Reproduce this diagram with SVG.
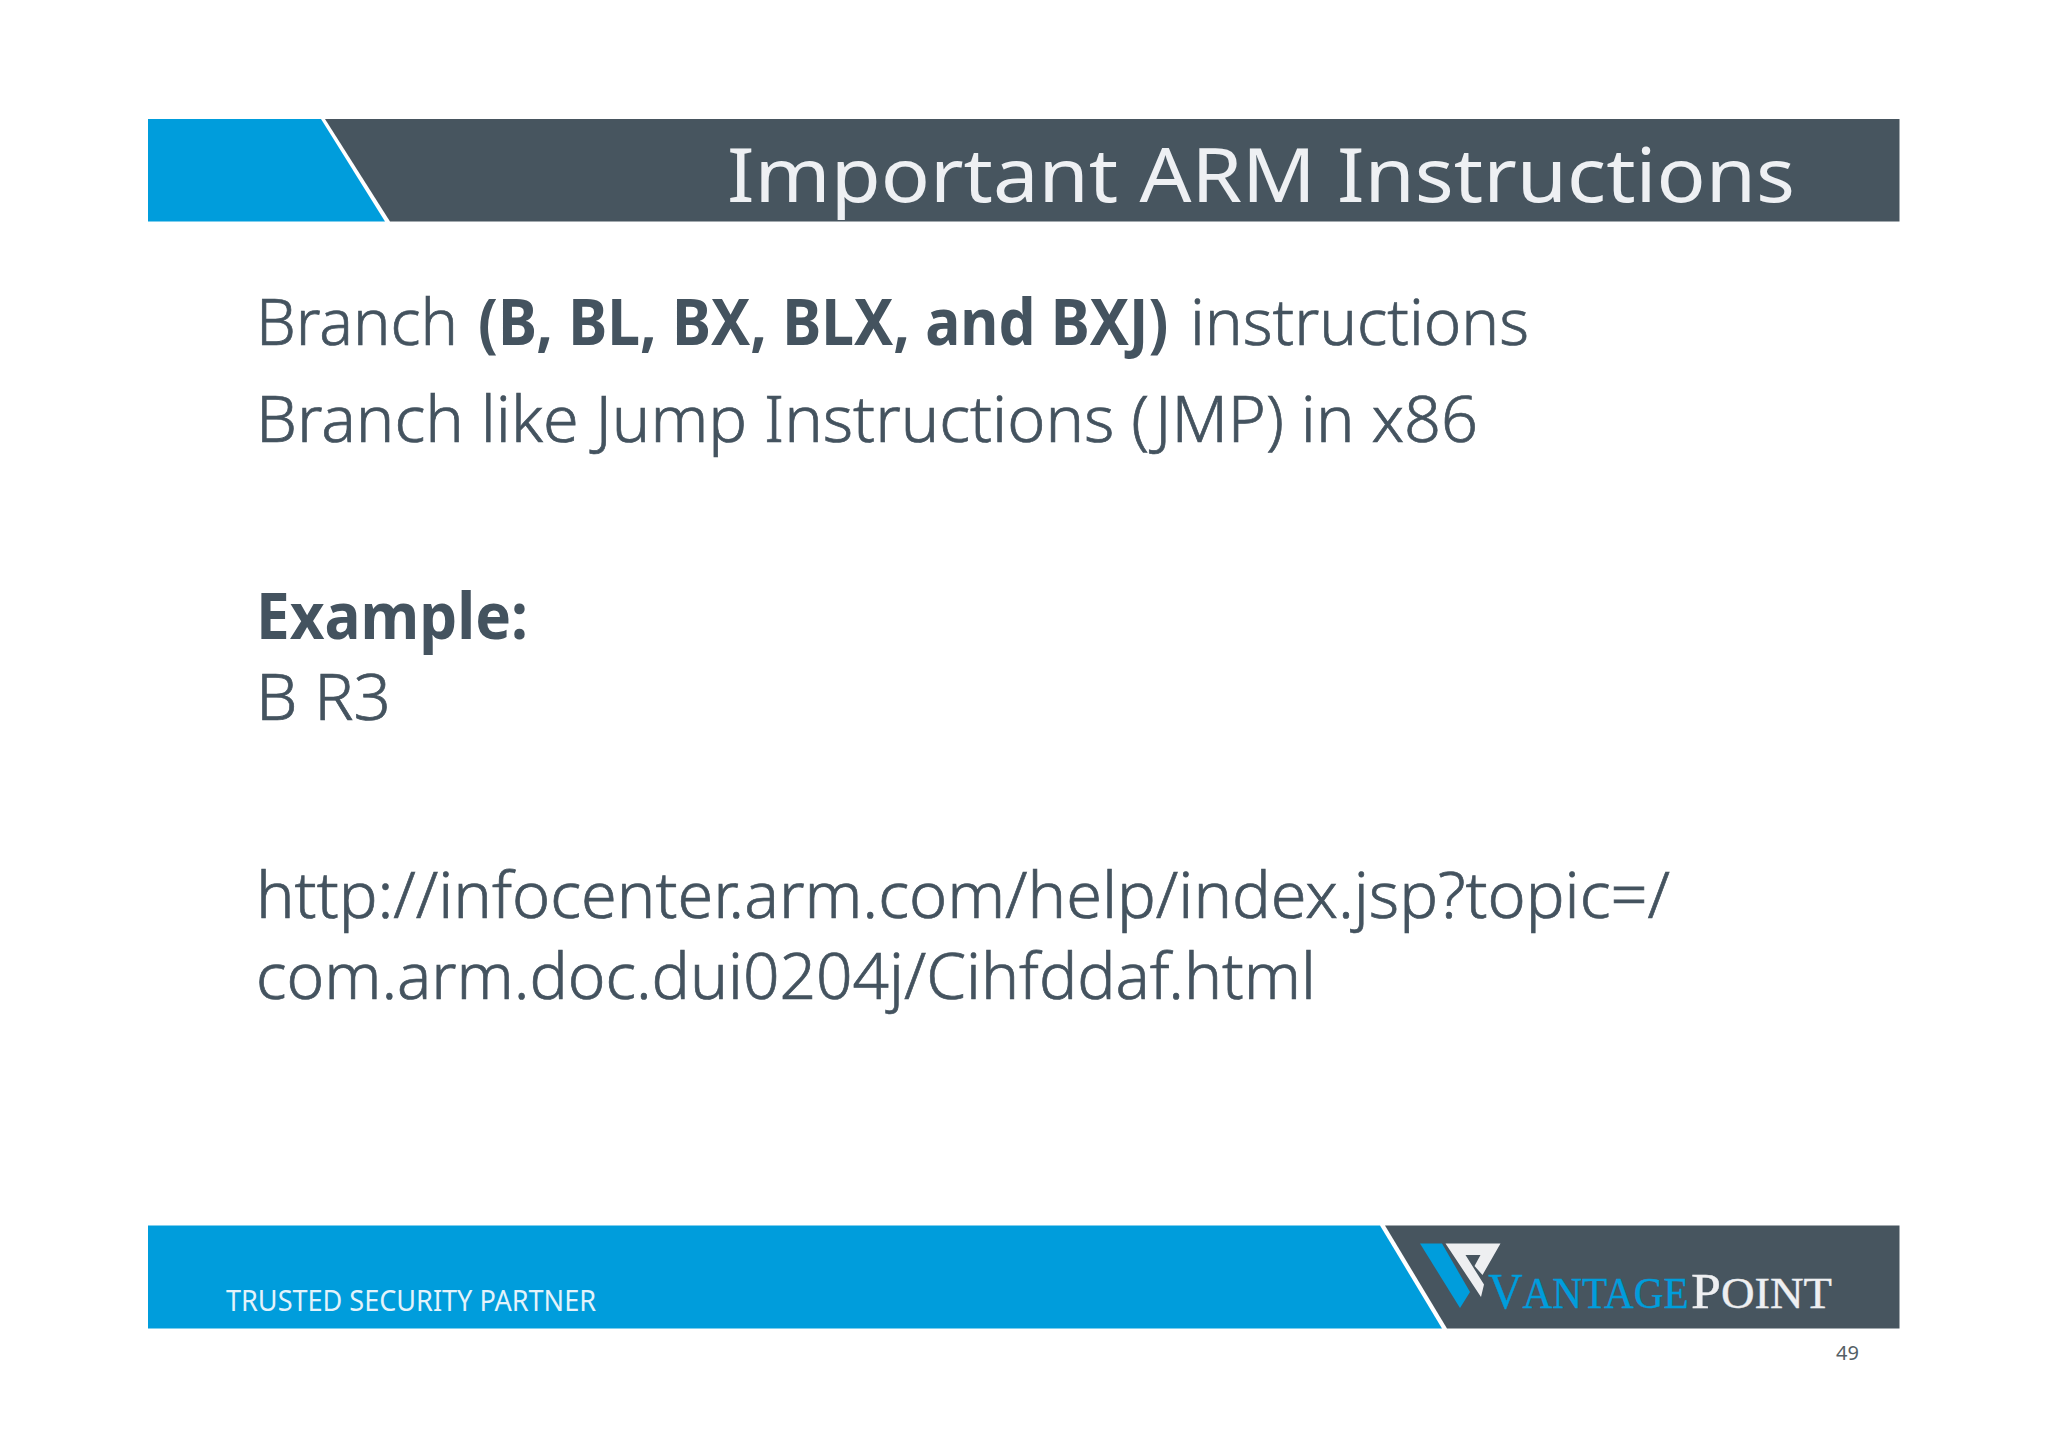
<svg xmlns="http://www.w3.org/2000/svg" width="2048" height="1447" viewBox="0 0 2048 1447">
<style>
.b{font-family:"Noto Sans","Open Sans",sans-serif;font-size:65px;fill:#44535f;stroke:#44535f;stroke-width:.7px;font-weight:300}
.s{font-weight:700;stroke:none}
.blue{fill:#009ddc}.dark{fill:#47555f}
.lg{font-family:"Liberation Serif",serif;font-size:44px}
.cap{font-size:51px}
</style>
<rect width="2048" height="1447" fill="#ffffff"/>
<g id="header">
<polygon class="blue" points="148,119 321,119 385,221.500 148,221.500"/>
<polygon class="dark" points="325,119 1899.500,119 1899.500,221.500 390,221.500"/>
<text x="727" y="202" font-family="'Noto Sans',sans-serif" font-size="74" fill="#eef0f3" textLength="1068" lengthAdjust="spacingAndGlyphs">Important ARM Instructions</text>
</g>
<g id="body">
<text class="b" x="256" y="345" textLength="202" lengthAdjust="spacingAndGlyphs">Branch</text>
<text class="b s" transform="translate(478 345) scale(.9 1)" textLength="767" lengthAdjust="spacingAndGlyphs">(B, BL, BX, BLX, and BXJ)</text>
<text class="b" x="1190" y="345" textLength="339" lengthAdjust="spacingAndGlyphs">instructions</text>
<text class="b" x="256" y="442" textLength="1222" lengthAdjust="spacingAndGlyphs">Branch like Jump Instructions (JMP) in x86</text>
<text class="b s" x="256" y="639" textLength="272" lengthAdjust="spacingAndGlyphs">Example:</text>
<text class="b" x="256" y="720" textLength="135" lengthAdjust="spacingAndGlyphs">B R3</text>
<text class="b" x="256" y="918" textLength="1414" lengthAdjust="spacingAndGlyphs">http://infocenter.arm.com/help/index.jsp?topic=/</text>
<text class="b" x="256" y="999" textLength="1060" lengthAdjust="spacingAndGlyphs">com.arm.doc.dui0204j/Cihfddaf.html</text>
</g>
<g id="footer">
<polygon class="blue" points="148,1225.500 1380,1225.500 1442,1328.500 148,1328.500"/>
<polygon class="dark" points="1385,1225.500 1899.500,1225.500 1899.500,1328.500 1447,1328.500"/>
<text x="226" y="1311" font-family="'Noto Sans',sans-serif" font-size="29" fill="#e3f3fb" textLength="370" lengthAdjust="spacingAndGlyphs">TRUSTED SECURITY PARTNER</text>
<text x="1836" y="1360" font-family="'Noto Sans',sans-serif" font-size="20" fill="#555f66">49</text>
</g>
<g id="logo">
<polygon class="blue" points="1420,1243.500 1442,1243.500 1470,1292 1460,1308"/>
<polygon fill="#eeeff1" points="1445.500,1243.500 1500.500,1243.500 1482.500,1275 1474.500,1266 1480.500,1255 1465.500,1255 1484,1284.500 1481,1297"/>
<text class="lg" transform="translate(1488 1308) scale(.925 1)" fill="#009ddc" stroke="#009ddc" stroke-width=".4" textLength="217" lengthAdjust="spacingAndGlyphs"><tspan class="cap">V</tspan>ANTAGE</text>
<text class="lg" x="1691" y="1308" fill="#eeeff1" stroke="#eeeff1" stroke-width=".4" textLength="141" lengthAdjust="spacingAndGlyphs"><tspan class="cap">P</tspan>OINT</text>
</g>
</svg>
